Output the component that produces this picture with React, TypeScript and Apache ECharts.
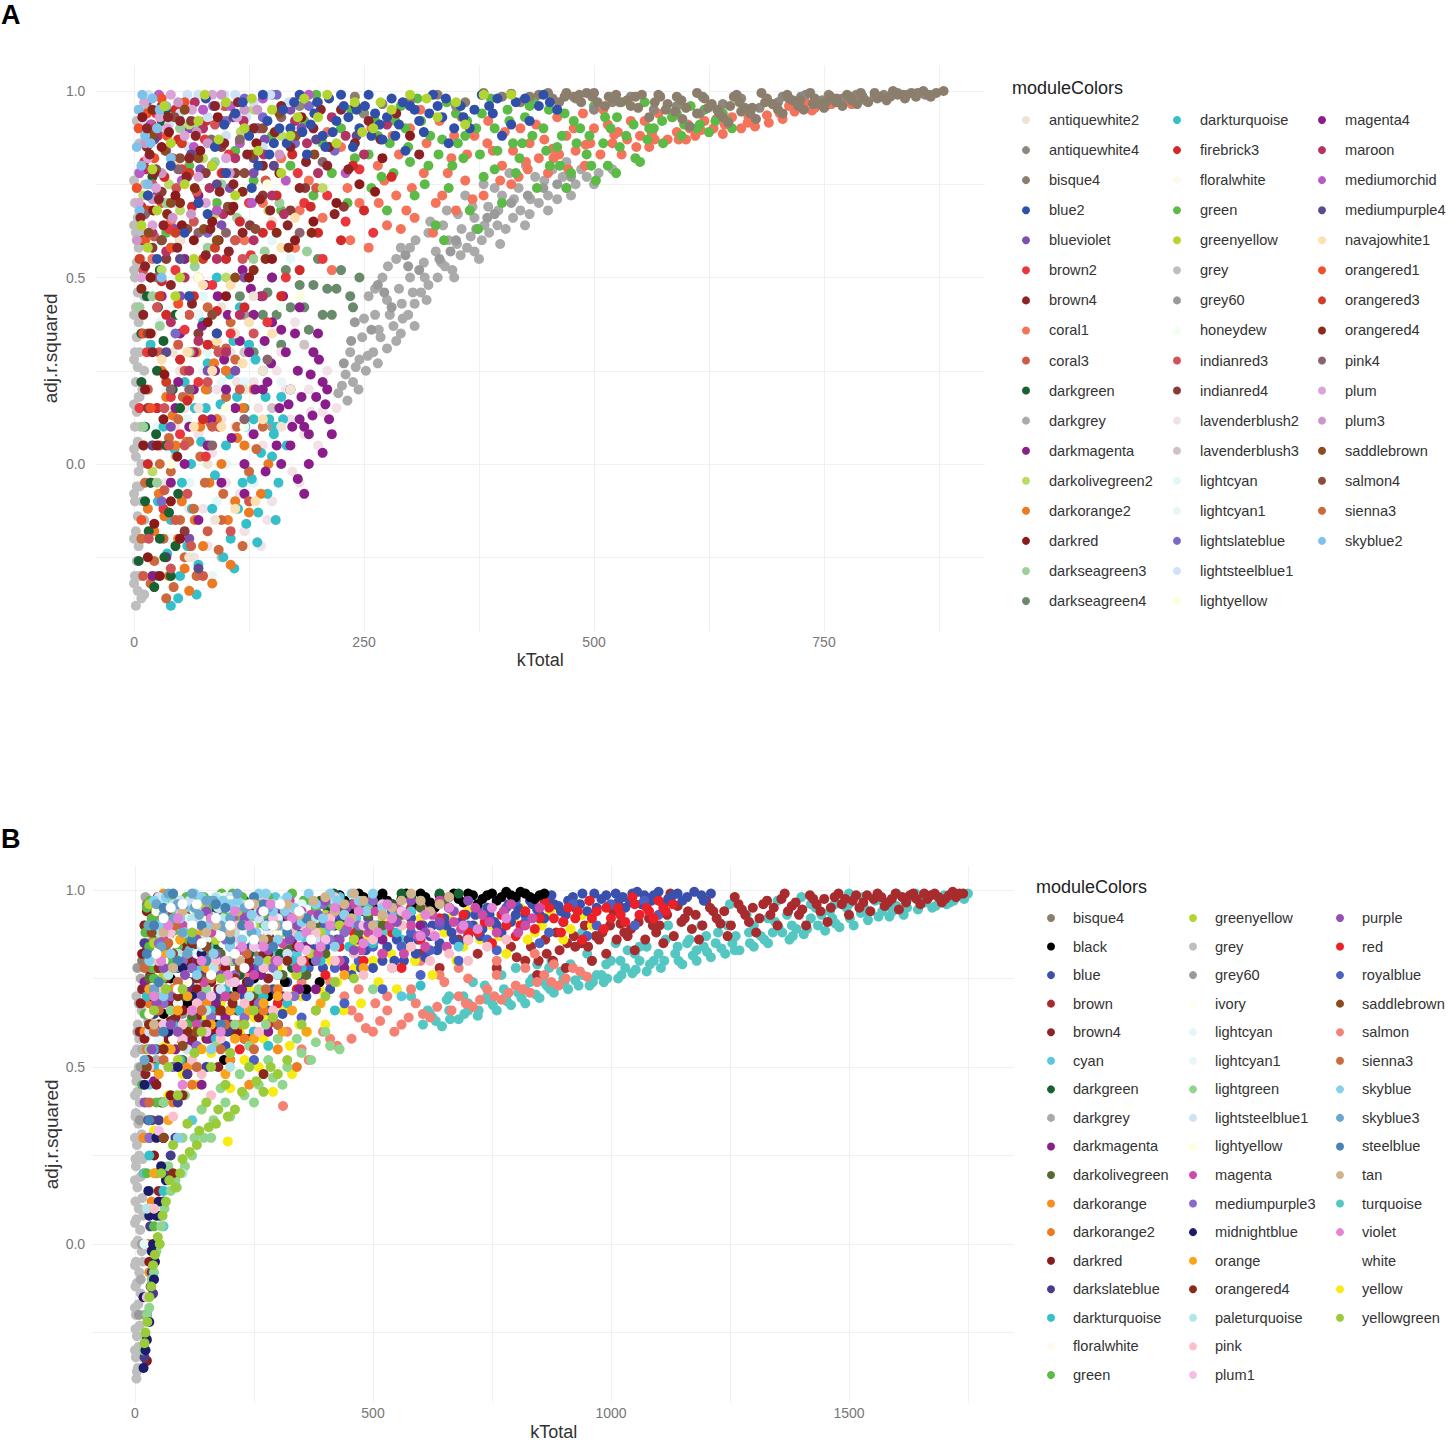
import React, { useEffect, useRef } from "react";
import * as echarts from "echarts";

// ================= Panel A : [kTotal, adj.r.squared] pairs (flat) =================
const A_grey = [2,-.38,4,-.34,1,-.3,3,-.26,5,-.22,2,-.18,4,-.14,1,-.1,3,-.06,5,-.02,2,.02,4,.06,1,.1,3,.14,5,.18,2,.22,4,.26,1,.3,3,.34,5,.38,2,.42,4,.46,1,.5,3,.54,5,.58,2,.62,4,.66,1,.7,3,.74,5,.78,8,-.36,9,-.2,8,0,9,.2,8,.4,7,.55,9,-.1,7,.1,6,.3,6,.86,3,.92,0,-.32,0,-.2,0,-.08,0,.04,0,.16,0,.28,0,.4,0,.52,0,.64,0,.76,6,-.3,6,-.06,6,.18,6,.42,6,.66,11,-.35,11,-.15,11,.05,11,.25,11,.45,10,.62,12,.75];
const A_darkgrey = [222,.19,230,.24,238,.22,245,.28,252,.25,260,.3,268,.34,275,.31,282,.37,290,.35,298,.4,305,.43,312,.46,320,.48,330,.5,338,.53,346,.52,355,.56,362,.58,370,.57,378,.6,386,.62,395,.64,404,.63,412,.66,420,.68,430,.67,440,.7,450,.72,460,.71,470,.74,480,.75,492,.77,505,.78,235,.3,248,.34,262,.4,275,.44,288,.47,300,.5,315,.54,328,.57,342,.6,356,.63,370,.66,385,.69,400,.72,418,.74,436,.77,455,.79,255,.45,270,.5,285,.55,300,.58,320,.62,340,.68,360,.72,380,.75,232,.17,265,.27,292,.39,318,.44,348,.5,375,.55,398,.59,425,.64,450,.68,475,.72,500,.75,520,.79,244,.2,285,.33,305,.37,226,.21,241,.26,254,.29,266,.36,278,.4,291,.43,303,.46,316,.5,334,.54,351,.59,366,.61,381,.64,396,.68,413,.71,431,.71,446,.76,466,.77,486,.79,250,.39,262,.47,276,.53,290,.58,306,.6,322,.65,336,.64,352,.67,368,.69,392,.74,408,.78,426,.8,470,.81];
const A_grey60 = [228,.27,258,.36,280,.42,310,.52,332,.55,350,.6,372,.63,392,.67,410,.7,445,.74,475,.77,240,.38,265,.48,295,.56,120,.4,80,.2,150,.1,50,.6,30,.9,236,.33,272,.46,298,.53,344,.57,384,.66,428,.72,460,.75];
const A_coral1 = [780,.965,765,.975,752,.96,740,.955,730,.97,718,.945,705,.925,690,.915,675,.905,660,.9,650,.93,640,.885,630,.9,620,.92,610,.88,600,.87,590,.89,580,.87,570,.94,560,.85,550,.88,540,.92,530,.83,520,.86,510,.95,500,.9,490,.8,480,.84,470,.88,460,.93,450,.78,440,.82,430,.86,420,.9,410,.75,400,.8,390,.84,380,.72,370,.88,360,.76,350,.68,345,.82,335,.72,325,.62,315,.78,305,.66,300,.9,290,.63,285,.72,275,.64,265,.8,255,.58,245,.7,235,.6,225,.85,215,.52,205,.66,190,.76,175,.58,160,.82,140,.7,120,.6,95,.78,70,.5,40,.65,20,.55,258,.9,272,.76,288,.83,302,.74,318,.86,332,.92,348,.88,362,.83,385,.92,398,.76,412,.84,428,.79,446,.87,462,.83,478,.9,496,.86,515,.91,536,.87,555,.92,585,.93,604,.9,625,.89,668,.93,712,.96,745,.97,232,.74,210,.89,180,.68,266,.7,281,.88,296,.68,311,.95,328,.7,341,.78,356,.93,368,.71,384,.86,403,.89,418,.77,437,.91,456,.82,472,.79,488,.94,507,.83,526,.89,546,.85,566,.87,592,.87,616,.895,642,.91,688,.935,726,.955,758,.965,563,.885,602,.91,633,.925,667,.915,702,.94,737,.948,772,.972,522,.883,491,.856,455,.845,426,.81];
const A_green = [650,.9,640,.94,625,.89,615,.91,605,.96,595,.88,585,.93,575,.86,565,.9,555,.97,545,.82,535,.88,525,.93,515,.8,510,.86,500,.96,492,.83,485,.9,475,.78,468,.94,460,.85,452,.8,445,.9,438,.74,430,.96,422,.86,415,.78,408,.92,400,.7,395,.84,388,.98,380,.77,372,.9,365,.68,358,.82,350,.94,342,.74,335,.87,328,.64,320,.8,312,.92,305,.72,298,.85,290,.96,282,.78,275,.68,265,.88,258,.74,250,.94,240,.82,232,.7,225,.9,215,.78,205,.86,195,.72,185,.92,170,.8,160,.68,150,.88,130,.76,110,.84,90,.7,60,.8,35,.62,550,.81,524,.78,502,.76,470,.74,374,.63,337,.6,262,.92,278,.86,295,.9,308,.98,322,.88,340,.97,352,.86,362,.92,378,.94,392,.9,412,.86,425,.93,435,.98,448,.84,465,.88,478,.92,495,.88,518,.9,530,.97,560,.9,590,.94,612,.9,632,.92,236,.95,198,.99,255,.83,269,.77,284,.92,300,.81,316,.75,331,.83,346,.8,360,.88,376,.83,392,.79,406,.95,419,.82,433,.88,451,.95,463,.8,481,.86,497,.8,512,.93,528,.85,543,.91,558,.87,574,.92,598,.91,620,.95,645,.92];
const A_antiquewhite4 = [860,.99,840,.99,815,.99,795,.975,770,.98,748,.975,725,.985,700,.97,680,.955,660,.98,640,.965,615,.94,590,.96,565,.95,540,.985,520,.97,500,.95,480,.98,350,.96,250,.94,180,.96,120,.9,60,.85,705,.985,730,.99,755,.99,785,.99,805,.985,830,.995];
const A_bisque4 = [880,1,872,.995,865,.99,858,1,850,.985,845,.995,838,.98,830,.99,825,1,818,.975,812,.985,805,.995,798,.97,792,.985,786,.965,780,.975,775,.99,770,.96,763,.97,757,.985,750,.955,745,.965,740,.98,735,.995,728,.95,722,.96,716,.975,710,.99,705,.94,700,.95,694,.965,688,.98,682,.995,676,.925,670,.94,664,.955,658,.97,652,.985,646,.915,640,.93,634,.95,628,.965,620,.98,612,.995,604,.905,596,.925,588,.945,580,.965,572,.985,560,.93,548,.955,536,.975,524,.99,512,.96,498,.985,486,.97,470,.995,455,.98,440,.99,420,.97,400,.985,380,.995,360,.97,330,.99,300,.975,270,.965,240,.985,200,.97,150,.99,100,.96,866,.985,852,.995,836,.99,822,.985,808,.98,790,.995,778,.985,764,.98,752,.97,738,.965,724,.975,712,.98,698,.96,686,.97,672,.955,660,.945,648,.96,636,.94,624,.955,612,.94,600,.955,590,.985,578,.95,566,.97,552,.99,540,.96,528,.97,516,.985,504,.97,492,.995,478,.985,462,.97,410,.993,430,.985,450,.995,468,.985,484,.99,500,.995,520,.98,545,.985,570,.99,595,.975,618,.985,655,.99];
const A_blue2 = [460,.95,445,.99,430,.92,415,.97,400,.88,390,.94,378,.99,365,.9,355,.96,342,.86,335,.93,325,.99,315,.89,305,.95,295,.84,288,.91,280,.98,270,.87,262,.94,255,.99,245,.9,238,.85,228,.96,220,.92,212,.98,205,.88,196,.94,188,.83,180,.99,170,.9,162,.95,152,.86,145,.92,135,.8,125,.88,110,.94,100,.78,88,.85,70,.7,55,.62,40,.8,25,.55,15,.72,60,.45,90,.35,140,.99,158,.9,174,.97,192,.91,208,.85,225,.99,242,.95,258,.88,275,.93,292,.97,310,.92,330,.96,348,.9,370,.95,395,.98,410,.91,440,.96,118,.97,98,.91,78,.98,128,.74,80,.67,147,.83,166,.86,183,.89,199,.97,216,.89,233,.93,251,.96,267,.91,284,.88,300,.96,321,.94,339,.98,358,.93,386,.96,425,.98,452,.97];
const A_greenyellow = [380,.99,350,.97,330,.93,300,.99,280,.95,260,.9,240,.97,220,.86,200,.93,185,.98,170,.88,150,.95,135,.84,120,.9,100,.97,85,.8,70,.92,55,.75,40,.86,25,.68,15,.58,65,.55,45,.45,110,.72,160,.78,33,.96,77,.99,92,.87,128,.98,178,.93,210,.99,248,.89,268,.97,318,.98,360,.91,410,.99,20,.79,8,.64,50,.5];
const A_brown4 = [255,.92,240,.86,225,.95,210,.8,195,.9,180,.74,170,.85,160,.96,148,.68,140,.8,130,.9,118,.62,108,.75,98,.86,88,.96,78,.56,70,.7,60,.82,50,.92,40,.48,32,.64,22,.78,14,.9,10,.4,20,.3,7,.66,17,.83,27,.71,37,.93,47,.58,57,.77,67,.88,83,.63,93,.73,113,.97,123,.83,137,.71,153,.89,167,.64,187,.81,203,.95,218,.67,233,.79,268,.87,285,.94,310,.83,12,.53,63,.43,103,.57];
const A_darkred = [300,.88,270,.82,245,.75,220,.7,195,.65,175,.6,150,.55,125,.5,100,.45,85,.65,65,.6,45,.72,30,.85,18,.5,12,.2,25,.05,40,-.1,15,-.25,9,.93,21,.68,38,.89,52,.64,72,.84,91,.93,108,.69,133,.86,158,.78,182,.93,212,.85,241,.96,262,.73,33,.24,47,.02,22,-.16,80,.38,10,.05,18,.35,32,.12,50,-.2,28,-.3];
const A_maroon = [230,.88,200,.78,175,.92,150,.72,130,.6,110,.82,90,.55,75,.9,55,.5,40,.38,30,.96,20,.62,60,.25,100,.3,140,.45,13,.79,26,.88,44,.81,66,.97,82,.74,97,.67,119,.92,141,.83,163,.67,188,.86,215,.93,250,.83,275,.91,35,.57,70,.33,115,.4];
const A_firebrick3 = [280,.77,250,.68,225,.6,200,.62,180,.52,160,.45,140,.62,120,.42,100,.55,80,.32,65,.45,50,.28,35,.4,25,.15,15,0,10,.8,45,.95,75,.12,8,.69,19,.91,33,.77,48,.87,63,.69,78,.92,96,.78,115,.65,135,.9,155,.72,172,.83,192,.69,238,.8,30,.49,58,.17,90,.41];
const A_brown2 = [260,.62,230,.65,205,.55,185,.7,165,.5,145,.38,125,.7,105,.35,85,.48,70,.22,55,.36,40,.18,28,.05,18,-.05,95,.92,11,.81,24,.94,38,.63,52,.79,77,.87,103,.83,127,.56,149,.64,178,.78,210,.72,245,.79,14,.3,45,.52,92,.1,6,.15,32,-.12,50,.08,78,.02,62,.3];
const A_magenta4 = [215,.08,212,.12,205,.03,198,.18,190,0,185,.1,178,.25,170,.05,165,.3,158,.15,150,.38,145,.22,138,.45,130,.08,125,.3,118,.52,110,.15,102,.4,95,-.05,88,.25,78,.48,70,-.15,60,.1,50,.35,35,-.25,180,.42,200,.35,185,-.08,178,-.04,55,0,65,.2,84,.12,98,.28,115,.33,132,.2,142,.33,155,.05,168,.16,175,.35,192,.24,208,.16,162,.45,120,-.08,143,-.02,48,.22,74,.37,91,.45,106,.07,127,.47,149,.27,160,.36,172,.1,182,.18,194,.13,201,.28,210,.2];
const A_darkmagenta = [205,.22,195,.3,180,.12,160,0,140,.2,120,0,100,.2,80,.05,65,.3,45,.15,30,.45,20,-.3,150,.5,110,.6,70,.72,90,.35,130,.4,170,.2,40,-.05,55,.55,190,.08];
const A_darkturquoise = [160,.18,155,.1,150,.02,145,-.08,140,.25,135,-.13,130,.12,125,.32,118,-.05,112,.18,105,-.2,100,.05,92,.3,85,-.12,78,.15,70,-.27,62,0,55,.22,48,-.36,40,-.15,32,.1,25,-.3,18,.32,115,.42,90,.5,60,.45,154,-.15,134,-.21,109,-.28,68,-.35,40,-.38,26,-.1,44,.04,58,-.22,66,.15,82,.05,97,-.25,104,.24,121,.1,138,.03,147,.12,157,-.05,166,.05,75,.38,50,-.3,122,-.16,36,-.24,52,-.05,63,-.12,73,.06,88,-.03,94,.16,113,-.12,128,-.04,143,.18,152,.08,162,.12,80,.27,108,.33,132,.28];
const A_darkorange2 = [130,.2,120,.05,110,-.1,100,.25,90,.12,82,-.05,75,-.22,68,.3,60,.18,52,-.1,45,.05,38,-.3,30,.25,22,-.18,60,-.34,27,-.08,35,.18,48,-.2,57,.06,66,-.15,78,.2,95,0,105,-.27,118,.15,138,-.08,85,-.32,15,-.12,20,.05,33,-.14,42,.13,55,-.28,72,.1,87,.27,102,-.15,112,.07,125,-.13,146,0];
const A_sienna3 = [125,-.02,112,.1,95,-.15,88,.32,72,.02,65,-.12,55,-.25,48,.12,40,-.02,32,-.2,25,.15,18,-.32,105,.38,80,.42,35,-.36,12,-.05,28,0,43,-.33,60,.06,77,-.05,92,-.23,100,.18,118,-.22,133,.04,50,-.15,8,-.2,22,-.26,38,.07,53,.18,68,-.3,83,.11,97,-.08,110,.28,140,.1];
const A_saddlebrown = [40,.7,70,.82,20,.88,90,.6,55,.95,110,.5,16,.62,34,.84,76,.63,128,.83,158,.94,196,.83];
const A_salmon4 = [30,.6,50,.82,85,.4,120,.78,15,.35,140,.9,24,.79,58,.63,102,.69,132,.63,176,.88,44,.93];
const A_lavenderblush2 = [220,.15,210,.25,200,.05,190,.2,180,-.05,170,.12,160,.3,150,-.1,140,.05,130,.22,120,-.18,110,.1,100,-.05,90,.2,80,-.22,70,.08,60,-.12,50,.25,40,-.2,175,.38,45,.1,65,-.25,85,.03,105,.3,115,-.08,135,.15,145,-.15,165,.2,185,.08,195,.3,205,.14,125,-.03,35,-.05,55,.15,75,-.12,95,.12,112,.22,128,.08,138,-.22,155,.25,172,-.02,192,.14];
const A_lavenderblush3 = [185,.32,150,.15,120,.3,95,-.25,70,.4,45,.02,30,.6,20,.9];
const A_darkseagreen4 = [245,.5,235,.45,225,.52,215,.4,210,.47,200,.55,190,.36,180,.48,170,.42,160,.32,150,.5,140,.4,130,.3,115,.45,100,.25,90,.12,120,.15,108,.35,125,.5,145,.46,165,.52,185,.42,205,.4,220,.47,238,.42,195,.48,155,.4];
const A_darkseagreen3 = [20,.45,35,.7,50,.9,60,.3,80,.58,95,.75,130,.55,10,.1,25,-.05,15,.95,42,.58,70,.9,112,.66,158,.7,5,.42,28,.37,66,.53,88,.81,142,.57,188,.57];
const A_darkgreen = [40,.8,30,.6,15,.72,45,.4,25,.25,35,.05,12,-.1,28,-.2,40,-.3,18,.5,8,.35,50,.15,22,-.33,35,.95,10,.6,5,-.26,18,-.05,26,.42,33,-.25,42,.2,12,.1,48,-.08,20,.77,30,.92,8,.22,16,-.18,24,.08,32,.33,38,-.13,45,-.22,14,.45,28,.52];
const A_skyblue2 = [5,.95,12,.88,20,.98,8,.8,25,.9,35,.96,15,.75,3,.85,40,.82,30,.5,9,.99,18,.86,28,.95,6,.68];
const A_lightsteelblue1 = [10,.92,30,.98,50,.94,70,.99,90,.96,110,.99,130,.97,60,.85,140,.85,100,.88,45,.7,20,.62,16,.99,38,.91,58,.99,80,.93,98,.99,122,.93,148,.99,168,.97];
const A_lightcyan = [80,.3,110,.5,60,-.05,150,.6,35,.2,90,-.1,130,-.05,170,.55,20,-.3,50,-.1,100,.4,120,.22,75,.45,28,.38];
const A_lightcyan1 = [70,.4,100,0,140,.32,45,.5,120,.65,160,.22,25,.1,85,-.3,38,-.2,75,.25,108,-.1,180,.25,58,.12,95,.22];
const A_plum = [5,.7,15,.82,28,.93,40,.99,55,.88,70,.77,20,.64,8,.5,85,.99,100,.82,11,.97,24,.74,36,.9,63,.95,112,.93,78,.7];
const A_plum3 = [12,.86,30,.78,48,.97,62,.67,80,.86,95,.99,3,.6,120,.95,20,.71,42,.66,68,.89,104,.78,134,.95,158,.83];
const A_mediumorchid = [18,.91,35,.84,52,.76,75,.95,90,.68,115,.86,140,.98,165,.76,190,.99,230,.78,6,.78,27,.99,45,.71,65,.85,105,.96,128,.7];
const A_blueviolet = [25,.72,60,.9,95,.64,130,.78,170,.95,110,.25,40,.1,60,-.2,80,.25,50,.45,120,.5,14,.97,44,.63,72,.79,104,.74,142,.87,182,.9];
const A_lightslateblue = [140,.93,120,.98,100,.92,155,.99,175,.86,80,.62,45,.35,30,-.1,58,.77,86,.96,132,.9,190,.96,218,.84];
const A_mediumpurple4 = [50,.55,90,.75,130,.82,35,.3,20,.05,70,-.28,22,.87,62,.83,108,.93,152,.8,198,.87,242,.88];
const A_coral3 = [30,.7,60,.4,85,.1,110,.6,15,.2,45,-.15,75,-.3,125,-.1,22,.61,42,.82,68,.73,98,.96,143,.76,172,.97,198,.74,55,.25,100,.31,33,-.07,62,-.22,10,-.3,27,.3,48,.32,80,-.18,115,.2];
const A_indianred3 = [25,.42,55,.05,80,.22,105,-.18,40,-.28,130,.35,20,.75,65,.65,10,.52,46,.74,88,.91,118,.55,33,.15,16,-.2,38,.05,58,-.08,92,.3];
const A_indianred4 = [35,.55,70,.35,95,.85,140,.72,15,.15,55,-.18,20,.58,62,.92,110,.78,170,.68,30,.73,78,.78,126,.64,186,.74,228,.69];
const A_orangered1 = [5,.9,12,.6,22,.82,10,.35,30,.98,18,.15,40,.58,8,-.15,3,.74,14,.94,25,.71,36,.88,55,.97,48,.43];
const A_orangered3 = [15,.68,28,.45,45,.62,60,.78,35,.22,75,.55,6,.55,22,.9,52,.86,88,.58];
const A_orangered4 = [20,.95,50,.7,85,.8,105,.68,130,.52,155,.62,8,.47,36,.67,66,.74,92,.6,118,.73,143,.55,168,.58,193,.62,14,.85];
const A_pink4 = [25,.5,60,.2,100,.62,145,.28,180,.62,85,.05,40,.2,70,.62,120,.12,12,.67,48,.79,84,.87,115,.87,160,.93,205,.81];
const A_antiquewhite2 = [50,.6,70,.15,95,.42,120,.2,150,.65,35,.9,170,.2,80,0,20,.35,60,-.25,130,.45,160,.1,42,.3,88,-.15,110,.35,140,.25];
const A_navajowhite1 = [75,.48,95,.1,125,.38,160,.58,45,.8,110,-.12,140,.12,175,.66,58,.3,85,.25,105,.48,150,.35,30,.28,65,.1,90,.33,118,.27,132,-.1];
const A_floralwhite = [80,.7,110,.4,60,.2,140,.55,100,.9];
const A_honeydew = [90,.62,120,.1,50,.4,160,.42,130,.88];
const A_lightyellow = [70,.5,100,.15,145,.75,40,0,180,.45];
const A_darkolivegreen2 = [10,.72,30,.52,50,.68,75,.82,100,.5,130,.95,160,.88,20,-.02,38,.75,60,.91,88,.67,116,.89,146,.68,186,.98,205,.74];

// legend order (alphabetical, as in the reference)
const A_LEGEND = ["antiquewhite2","antiquewhite4","bisque4","blue2","blueviolet","brown2","brown4","coral1","coral3","darkgreen","darkgrey","darkmagenta","darkolivegreen2","darkorange2","darkred","darkseagreen3","darkseagreen4","darkturquoise","firebrick3","floralwhite","green","greenyellow","grey","grey60","honeydew","indianred3","indianred4","lavenderblush2","lavenderblush3","lightcyan","lightcyan1","lightslateblue","lightsteelblue1","lightyellow","magenta4","maroon","mediumorchid","mediumpurple4","navajowhite1","orangered1","orangered3","orangered4","pink4","plum","plum3","saddlebrown","salmon4","sienna3","skyblue2"];

const A_DATA: Record<string, number[]> = {
  antiquewhite2: A_antiquewhite2, antiquewhite4: A_antiquewhite4, bisque4: A_bisque4, blue2: A_blue2,
  blueviolet: A_blueviolet, brown2: A_brown2, brown4: A_brown4, coral1: A_coral1, coral3: A_coral3,
  darkgreen: A_darkgreen, darkgrey: A_darkgrey, darkmagenta: A_darkmagenta, darkolivegreen2: A_darkolivegreen2,
  darkorange2: A_darkorange2, darkred: A_darkred, darkseagreen3: A_darkseagreen3, darkseagreen4: A_darkseagreen4,
  darkturquoise: A_darkturquoise, firebrick3: A_firebrick3, floralwhite: A_floralwhite, green: A_green,
  greenyellow: A_greenyellow, grey: A_grey, grey60: A_grey60, honeydew: A_honeydew, indianred3: A_indianred3,
  indianred4: A_indianred4, lavenderblush2: A_lavenderblush2, lavenderblush3: A_lavenderblush3,
  lightcyan: A_lightcyan, lightcyan1: A_lightcyan1, lightslateblue: A_lightslateblue,
  lightsteelblue1: A_lightsteelblue1, lightyellow: A_lightyellow, magenta4: A_magenta4, maroon: A_maroon,
  mediumorchid: A_mediumorchid, mediumpurple4: A_mediumpurple4, navajowhite1: A_navajowhite1,
  orangered1: A_orangered1, orangered3: A_orangered3, orangered4: A_orangered4, pink4: A_pink4, plum: A_plum,
  plum3: A_plum3, saddlebrown: A_saddlebrown, salmon4: A_salmon4, sienna3: A_sienna3, skyblue2: A_skyblue2,
};
const A_FIRST = ["grey","darkgrey","grey60","coral1","green","antiquewhite4","bisque4","darkseagreen4","lavenderblush2","lavenderblush3","lightcyan","lightcyan1","darkturquoise","darkorange2","sienna3","magenta4","darkmagenta"];
const A_LAST = ["brown4","darkred","blue2","greenyellow"];

// ================= Panel B =================
const B_grey = [3,-.38,6,-.35,2,-.32,8,-.29,4,-.26,10,-.23,2,-.2,7,-.17,12,-.14,4,-.11,9,-.08,2,-.05,14,-.02,6,.01,11,.04,3,.07,8,.1,15,.13,5,.16,12,.19,2,.22,9,.25,4,.28,14,.31,7,.34,2,.37,10,.4,5,.43,3,.46,8,.5,4,.55,6,.62,3,.7,0,-.3,0,-.18,0,-.06,0,.06,0,.18,0,.3,0,.42,0,.54,4,-.36,10,-.3,16,-.05,18,.08,16,.24,12,.36,20,.45,9,.58,14,.66,17,-.32,19,-.2,1,-.24,1,-.12,1,0,1,.12,1,.24,1,.36,1,.48,20,.3,22,.5,13,.48];
const B_grey60 = [10,.35,25,.6,40,.8,70,.9,15,0,8,-.2,30,.15,55,.72,100,.65,20,.9,5,.78,12,.5,18,.2,28,.85];
const B_darkgrey = [5,.6,12,.75,20,.85,30,.7,45,.52,60,.88,18,.3,12,-.1,150,.95,200,.7,80,.98,35,.95,8,.68,15,.55,25,.4,40,.62,50,.92,22,.98,28,.63];
const B_turquoise = [1750,.99,1735,.985,1720,.97,1705,.96,1690,.975,1675,.95,1660,.965,1645,.945,1630,.98,1615,.93,1600,.955,1585,.925,1570,.94,1555,.97,1540,.915,1525,.935,1510,.9,1495,.95,1480,.895,1465,.92,1450,.885,1435,.9,1420,.96,1405,.875,1390,.89,1375,.86,1360,.88,1345,.91,1330,.85,1315,.87,1300,.84,1285,.93,1270,.83,1255,.85,1240,.82,1225,.88,1210,.81,1195,.84,1180,.8,1165,.86,1150,.79,1135,.82,1120,.9,1105,.78,1090,.8,1075,.77,1060,.84,1045,.765,1030,.78,1015,.75,1000,.8,985,.74,970,.76,955,.73,940,.88,925,.745,910,.72,895,.77,880,.71,865,.73,850,.695,835,.75,820,.68,805,.71,790,.675,775,.72,760,.66,740,.69,720,.645,700,.66,680,.635,660,.7,645,.615,620,.65,590,.8,560,.86,520,.9,470,.95,1400,.98,1500,.99,1600,.99,1350,.97,1250,.96,1742,.975,1712,.965,1682,.955,1652,.97,1622,.95,1592,.94,1562,.925,1532,.95,1502,.92,1472,.905,1442,.93,1412,.89,1382,.87,1352,.895,1322,.86,1292,.85,1262,.87,1232,.835,1202,.825,1172,.815,1142,.8,1112,.8,1082,.79,1052,.775,1022,.76,992,.75,962,.74,932,.73,902,.735,872,.72,842,.705,812,.695,782,.685,752,.675,722,.66,692,.65,662,.635,632,.63,605,.62,870,.78,960,.8,1050,.82,1700,.985,1660,.985,1620,.97,1580,.955,1540,.935,1500,.96,1460,.94,1420,.92,1380,.9,1340,.88,1300,.9,1260,.83,1220,.85,1180,.83,1140,.84,1100,.82,1060,.8,1020,.8,980,.76,940,.76,900,.75,860,.74,820,.72,780,.7,740,.7,700,.68,660,.66,625,.64,580,.7,540,.78,615,.66,655,.69,690,.7,735,.73,770,.76,800,.78,830,.74,875,.8,915,.79,950,.82,990,.79,1035,.83,1075,.84,1115,.86,1160,.85,1200,.87,1245,.9,1290,.88,1330,.92,1370,.93,1430,.95,1470,.96,1530,.98,1570,.97,1640,.99,710,.74,845,.79,1010,.85,1190,.9];
const B_brown = [1740,.99,1725,.98,1710,.985,1695,.965,1680,.99,1665,.975,1650,.96,1635,.99,1620,.965,1605,.945,1590,.975,1575,.955,1560,.99,1545,.94,1530,.965,1515,.985,1500,.93,1485,.96,1470,.98,1455,.91,1440,.94,1425,.975,1410,.9,1395,.93,1380,.955,1365,.99,1350,.9,1335,.93,1320,.96,1305,.88,1290,.91,1275,.945,1260,.98,1245,.87,1230,.905,1215,.94,1200,.97,1185,.86,1170,.89,1155,.92,1140,.955,1125,.99,1110,.85,1095,.88,1080,.92,1065,.96,1050,.83,1035,.87,1020,.905,1005,.94,990,.82,975,.86,960,.8,945,.9,925,.84,905,.78,885,.88,865,.82,845,.76,820,.8,790,.84,760,.78,720,.82,680,.86,640,.78,600,.82,1732,.99,1702,.975,1672,.985,1642,.975,1612,.98,1582,.965,1552,.975,1522,.95,1492,.975,1462,.95,1432,.96,1402,.945,1372,.94,1342,.95,1312,.92,1282,.93,1252,.9,1222,.92,1192,.9,1162,.94,1132,.87,1102,.9,1072,.86,1042,.89,1012,.86,982,.88,952,.84,922,.87,892,.83,862,.86,832,.84,802,.81,1718,.995,1688,.98,1658,.99,1628,.985,1598,.99,1568,.98,1538,.985,1508,.97,1478,.99,1448,.975,1418,.985,1388,.965,1358,.975,1328,.97,1298,.95,1268,.96,1238,.94,1208,.95,1178,.93,1148,.91,1118,.93,1088,.9,1058,.91,1028,.88,998,.9,968,.87,938,.85,908,.85,878,.8,848,.8];
const B_salmon = [950,.755,920,.78,890,.73,860,.76,830,.71,800,.73,770,.69,740,.72,710,.67,680,.7,650,.74,620,.64,590,.68,560,.62,530,.66,500,.6,470,.64,440,.7,410,.58,380,.66,350,.55,320,.6,840,.82,760,.8,680,.78,600,.8,311,.39,935,.77,905,.75,875,.74,845,.74,815,.72,785,.71,755,.7,725,.69,695,.68,665,.66,635,.67,605,.65,575,.64,545,.6,515,.63,485,.61,455,.58,425,.56,395,.6,365,.52,60,.6,120,.82,180,.62,240,.76,300,.88,350,.74,410,.74,470,.72,530,.7,580,.72,640,.76,700,.75,760,.76,820,.78,880,.79,455,.66,505,.68];
const B_yellow = [960,.9,930,.96,900,.86,870,.93,840,.88,810,.95,780,.82,750,.9,725,.86,700,.94,675,.8,650,.88,625,.76,600,.92,575,.84,550,.72,525,.88,500,.8,475,.68,450,.92,425,.74,400,.62,375,.84,350,.7,325,.56,300,.78,280,.64,260,.5,240,.72,220,.6,200,.44,180,.68,160,.54,140,.38,120,.6,100,.48,80,.7,60,.56,40,.32,30,.8,195,.29,290,.43,330,.48,940,.93,915,.89,885,.95,855,.9,825,.86,795,.92,765,.87,740,.94,712,.9,690,.84,660,.92,640,.84,612,.88,588,.8,562,.9,538,.82,512,.74,488,.86,462,.78,438,.66,412,.8,388,.72,362,.6,338,.76,312,.66,270,.58,230,.52,210,.66,170,.6,130,.45,110,.55,90,.62,70,.42,50,.66,115,.68,150,.64,185,.56,250,.64,315,.84,345,.62,395,.9,420,.86,470,.84,520,.92];
const B_blue = [1210,.99,1190,.985,1175,.995,1160,.98,1140,.99,1120,.975,1100,.995,1085,.97,1070,.985,1055,.995,1040,.965,1025,.98,1010,.99,995,.955,980,.975,965,.99,950,.94,935,.96,920,.98,905,.93,890,.955,875,.985,860,.92,845,.945,830,.97,815,.9,800,.93,785,.96,770,.88,755,.91,740,.95,725,.87,710,.9,695,.93,680,.85,665,.88,650,.92,635,.83,620,.87,605,.9,590,.82,575,.86,560,.94,545,.8,530,.84,515,.88,500,.78,485,.83,470,.9,455,.76,440,.8,425,.86,410,.72,395,.78,380,.84,360,.7,345,.76,330,.82,310,.65,290,.72,270,.78,250,.6,230,.7,210,.8,190,.56,170,.66,150,.75,130,.5,110,.62,1195,.97,1150,.97,1130,.985,1110,.96,1090,.985,1065,.96,1045,.99,1030,.95,1015,.965,990,.985,970,.95,955,.97,940,.99,925,.95,910,.97,895,.94,880,.96,865,.975,850,.93,835,.96,820,.93,805,.95,790,.91,775,.94,760,.9,745,.93,730,.89,715,.93,700,.87,685,.91,670,.86,655,.9,640,.85,625,.9,610,.81,595,.86,580,.92,565,.8,550,.86,535,.9,520,.8,505,.86,490,.92,460,.86,430,.92,400,.84,370,.88,340,.92,320,.74,280,.66,240,.84,200,.74,160,.6,120,.72,30,.7,60,.8,90,.7,140,.84,180,.92,220,.88,260,.94,300,.8,350,.84,385,.9,445,.94,475,.78];
const B_royalblue = [1100,.93,1050,.9,1000,.96,950,.87,900,.91,850,.85,800,.97,760,.83,720,.95,680,.8,640,.9,600,.76,560,.84,520,.72,480,.94,440,.68,400,.9,350,.64,300,.86,250,.52,1070,.97,1020,.93,970,.9,920,.96,870,.88,820,.91,780,.95,740,.86,700,.9,660,.95,620,.83,580,.88,540,.94,500,.84,460,.9,420,.78,380,.94,330,.86,280,.92,60,.9,110,.85,160,.95,210,.9,255,.78,315,.96,365,.78,430,.96,470,.8,510,.9];
const B_red = [1130,.96,1115,.94,1100,.97,1090,.92,1075,.95,1060,.93,1045,.98,1030,.91,1015,.95,1000,.92,985,.89,970,.94,955,.97,940,.86,925,.92,910,.95,895,.88,880,.92,860,.97,840,.89,820,.94,800,.87,780,.9,750,.85,720,.88,690,.93,660,.98,620,.96,560,.78,520,.82,460,.88,400,.76,340,.72,280,.62,220,.55,1110,.95,1080,.94,1050,.96,1020,.93,990,.95,960,.92,930,.94,900,.91,870,.95,850,.92,810,.9,770,.93,735,.91,700,.88,640,.92,600,.86,580,.95,500,.9,430,.84,45,.8,85,.72,130,.8,175,.66,235,.78,300,.68,360,.8,420,.94,480,.8,540,.88];
const B_black = [860,.99,840,.975,820,.99,800,.98,780,.995,760,.97,740,.985,720,.96,700,.99,680,.975,660,.95,640,.985,620,.965,600,.99,580,.94,560,.975,540,.96,520,.99,500,.95,480,.98,460,.93,440,.97,420,.9,390,.85,360,.72,330,.8,300,.62,280,.7,250,.75,230,.58,200,.66,180,.8,150,.74,120,.55,90,.85,60,.65,187,.52,388,.74,850,.985,830,.98,810,.995,790,.985,770,.98,750,.99,730,.975,710,.985,690,.965,670,.99,650,.97,630,.95,610,.98,590,.96,570,.99,550,.95,530,.97,510,.98,490,.96,470,.99,450,.95,430,.985,75,.75,110,.68,140,.9,170,.62,215,.72,265,.66,315,.74,345,.9,375,.8,410,.94];
const B_magenta = [850,.95,820,.9,790,.96,760,.88,730,.93,700,.86,670,.91,640,.97,610,.84,580,.9,550,.95,520,.82,490,.88,460,.96,430,.8,400,.86,370,.93,340,.78,310,.85,280,.9,250,.76,220,.83,190,.7,160,.88,130,.62,835,.92,805,.88,775,.94,745,.91,715,.95,685,.89,655,.84,625,.93,595,.87,565,.82,535,.9,505,.94,475,.83,445,.89,415,.93,385,.82,355,.9,325,.97,295,.8,265,.86,235,.94,60,.86,100,.9,145,.74,175,.97,205,.92,240,.7,275,.96,310,.9,350,.94,400,.92];
const B_violet = [780,.92,720,.89,660,.95,600,.87,540,.92,480,.85,420,.95,360,.88,300,.8,240,.9,180,.6,140,.8,100,.45,70,.9,40,.7,750,.95,690,.9,630,.87,570,.93,510,.88,450,.91,390,.84,330,.92,270,.84,210,.94,55,.8,90,.92,120,.66,160,.92,195,.76,225,.84,285,.96,345,.84,410,.9,470,.94,530,.96,610,.93];
const B_purple = [700,.97,640,.91,580,.97,520,.93,460,.83,400,.97,340,.9,280,.83,230,.92,180,.76,130,.86,90,.6,60,.78,35,.55,20,.4,670,.94,610,.88,550,.91,490,.9,430,.86,370,.9,310,.95,250,.88,200,.84,150,.94,45,.68,75,.62,105,.76,140,.66,170,.82,215,.8,265,.94,325,.86,385,.93,445,.95];
const B_mediumpurple3 = [500,.97,440,.88,380,.8,320,.93,260,.68,210,.76,160,.64,120,.78,80,.5,50,.85,30,.3,260,.85,45,.6,75,.7,100,.8,140,.7,190,.86,230,.64,290,.78,350,.8,410,.86,25,.82,60,.68,90,.92,130,.56,175,.8,220,.96,275,.9,335,.7,395,.96,470,.9];
const B_skyblue = [500,.99,470,.97,440,.93,410,.99,380,.96,350,.91,320,.98,290,.94,260,.99,230,.9,200,.96,170,.92,140,.98,110,.88,80,.95,50,.9,30,.8,420,.84,300,.86,200,.84,130,.76,60,.7,160,.55,90,.3,215,.97,245,.93,275,.99,305,.9,335,.95,365,.99,395,.92,455,.99,485,.94,185,.97,155,.9,95,.92,65,.98,40,.97,75,.82,105,.95,125,.99,165,.82,225,.86,255,.88,315,.94,345,.87,425,.97,520,.95];
const B_cyan = [490,.95,450,.9,430,.98,400,.88,370,.97,340,.82,310,.95,280,.88,250,.96,220,.78,190,.92,160,.84,130,.95,100,.74,75,.88,50,.62,30,.45,20,.2,600,.9,680,.84,560,.7,150,.5,120,.35,60,.05,235,.94,265,.9,295,.98,325,.91,355,.97,385,.93,415,.9,465,.92,520,.88,545,.93,205,.86,175,.95,145,.88,115,.83,40,.9,65,.8,90,.9,110,.96,140,.78,175,.8,210,.97,245,.86,300,.82,360,.86,410,.95,505,.9,580,.94];
const B_paleturquoise = [380,.92,320,.88,260,.94,210,.88,170,.98,120,.92,90,.82,60,.96,40,.6,25,.1,150,.66,240,.7,300,.76,200,.5,100,.2,50,.88,80,.96,105,.88,140,.84,185,.92,225,.96,275,.9,350,.93,420,.97,35,.8,70,.76,130,.94,165,.78,205,.95,250,.84,310,.97];
const B_skyblue3 = [150,.97,120,.99,90,.96,70,.99,60,.93,180,.9,230,.95,110,.82,40,.72,20,.52,300,.9,260,.8,45,.96,100,.88,135,.93,165,.97,200,.92,245,.88,280,.95,30,.9,55,.84,80,.92,125,.95,190,.88,215,.99];
const B_steelblue = [100,.95,80,.99,140,.9,200,.86,250,.98,40,.9,60,.6,30,.35,320,.88,180,.62,60,.95,120,.86,170,.96,225,.9,290,.84,360,.92,25,.82,50,.74,90,.8,150,.8,190,.95,270,.96];
const B_green = [25,.95,35,.92,45,.96,55,.9,65,.94,75,.88,85,.93,95,.97,105,.91,115,.95,125,.86,135,.93,145,.98,160,.9,175,.96,190,.94,205,.99,220,.92,240,.96,260,.9,280,.98,30,.84,50,.82,70,.8,90,.84,40,.75,60,.7,20,.65,30,.55,15,.45,45,.4,80,.5,110,.62,330,.99,380,.95,150,.78,25,.2,40,.05,22,.88,32,.97,42,.87,52,.98,62,.86,72,.97,82,.9,92,.88,102,.96,112,.86,122,.97,132,.88,152,.95,168,.86,182,.99,198,.9,212,.95,232,.88,252,.97,270,.93,300,.96,35,.78,58,.75,28,.9,48,.91,68,.89,88,.96,108,.98,128,.93,158,.97,178,.91,195,.97,225,.98,245,.92,290,.9,355,.97,415,.96];
const B_lightgreen = [430,.55,400,.6,370,.52,340,.58,310,.45,280,.52,250,.4,220,.48,200,.36,180,.44,160,.3,140,.38,120,.25,100,.3,85,.18,70,.22,55,.05,45,-.02,35,-.1,25,-.2,18,-.3,60,.4,90,.6,150,.72,200,.8,260,.72,330,.7,500,.72,410,.56,380,.57,350,.54,320,.5,290,.47,260,.45,230,.42,190,.4,165,.35,145,.3,125,.3,105,.22,88,.16,75,.15,62,.1,50,0,40,-.08,30,-.18,22,-.26,30,.55,50,.7,75,.66,105,.42,130,.5,170,.56,210,.62,240,.56,275,.62,300,.58];
const B_yellowgreen = [300,.48,270,.43,240,.5,210,.38,190,.45,170,.34,150,.4,130,.28,110,.34,95,.2,80,.28,65,.12,55,.2,48,.02,38,-.06,30,-.15,22,-.25,70,.5,100,.72,140,.6,180,.75,230,.62,350,.62,400,.7,460,.75,120,.88,320,.52,285,.5,255,.46,225,.43,195,.36,175,.38,155,.33,135,.32,115,.26,100,.24,85,.16,72,.18,58,.08,52,0,42,-.03,34,-.12,26,-.22,20,-.28,40,.66,65,.72,90,.42,125,.54,160,.5,200,.54,250,.66,290,.64,380,.66,420,.74];
const B_midnightblue = [30,-.22,22,-.3,40,-.1,35,-.02,45,.08,28,.15,55,.22,18,-.35,60,.3,20,.45,90,.5,120,.7,25,-.27,33,-.12,38,0,42,-.05,50,.12,30,.08,65,.18,18,-.15,45,.3,70,.6,100,.78,140,.82,180,.66,60,.92];
const B_darkslateblue = [25,-.2,38,-.14,45,0,32,.05,60,.12,75,.25,50,.35,90,.4,130,.55,170,.7,40,.65,20,.85,20,-.32,35,-.08,52,.08,68,.2,85,.3,110,.48,28,.35,60,.5,55,.78,85,.62,115,.74,150,.5,195,.6,240,.74];
const B_darkred = [20,.58,35,.7,50,.62,65,.75,80,.68,95,.6,110,.8,130,.72,150,.85,170,.6,190,.78,220,.88,250,.68,280,.82,320,.92,45,.45,60,.3,30,-.05,25,-.33,75,.42,15,.82,28,.52,42,.88,55,.7,70,.58,85,.87,100,.66,120,.78,140,.66,160,.74,180,.88,205,.8,235,.74,265,.9,300,.76,340,.84,40,.25,55,.4,12,.68,25,.94,48,.98,62,.9,90,.95,115,.94,135,.8,175,.72,210,.6,245,.94,290,.88,360,.9];
const B_brown4 = [15,.72,30,.62,45,.78,60,.55,75,.68,90,.78,110,.48,130,.64,150,.58,175,.5,200,.62,240,.58,280,.75,35,.35,50,.15,20,.9,100,.92,140,.95,25,.83,40,.66,55,.86,70,.77,85,.64,105,.84,120,.58,145,.76,165,.67,190,.7,215,.6,260,.64,300,.7,22,.48,38,.1,10,.6,32,.76,48,.68,65,.6,80,.9,95,.7,125,.84,155,.9,185,.6,225,.86,270,.82];
const B_darkgreen = [560,.99,600,.97,520,.96,480,.94,430,.9,380,.86,330,.78,280,.88,240,.82,200,.7,150,.76,100,.7,60,.82,40,.5,30,.3,418,.99,390,.97,680,.99,640,.99,580,.98,500,.97,455,.96,405,.94,350,.88,305,.82,260,.9,220,.76,175,.84,125,.9,80,.72,110,.8,170,.95,230,.97,310,.94,365,.92,445,.92,540,.96];
const B_darkolivegreen = [650,.97,560,.93,470,.88,400,.82,320,.84,250,.7,180,.82,100,.52,60,.4,30,.75,140,.75,210,.88,290,.9,360,.76,440,.94,520,.9,600,.95,70,.86,120,.64,170,.9,240,.9,310,.76,380,.9,490,.93];
const B_darkmagenta = [440,.78,380,.72,330,.86,280,.6,240,.78,200,.52,170,.68,140,.45,110,.72,85,.55,60,.68,40,.46,25,.6,520,.86,600,.9,35,.82,50,.72,70,.62,95,.66,125,.8,155,.58,190,.64,225,.72,265,.76,310,.7,360,.84,410,.9,20,.74,45,.55,80,.82,115,.56,145,.76,180,.92,215,.66,255,.88,295,.94,345,.72,395,.82,470,.86];
const B_darkorange = [60,.99,40,.78,25,.7,70,.6,110,.5,150,.68,200,.52,240,.45,300,.55,35,.12,30,-.08,90,.8,20,.6,35,.5,55,.62,80,.72,100,.6,130,.6,175,.58,220,.62,18,.3];
const B_darkorange2 = [30,.68,55,.5,80,.4,120,.45,160,.62,200,.9,45,.2,28,0,270,.66,340,.5,25,.55,40,.86,65,.8,95,.58,140,.72,185,.78,230,.58,300,.72];
const B_darkturquoise = [50,.5,80,.62,120,.7,170,.58,220,.66,280,.56,350,.78,420,.66,30,.25,60,.15,500,.85,600,.73,40,.55,65,.72,95,.52,140,.62,190,.72,250,.6,320,.68,390,.8,25,.7,55,.88,85,.78,110,.6,160,.66,210,.8,270,.7,330,.8,450,.84,550,.88];
const B_orange = [90,.66,140,.55,190,.48,240,.66,300,.7,360,.6,70,.35,40,.2,130,.88,480,.78,50,.48,75,.55,110,.7,160,.62,210,.58,270,.68,330,.66,30,.72,60,.82,95,.86,150,.78,200,.66,250,.58,310,.6,390,.68,440,.76];
const B_orangered4 = [60,.55,100,.42,150,.62,210,.75,270,.48,40,.88,120,.85,80,.2,30,.62,90,.7,130,.75,180,.66,240,.8,50,.78,75,.63,110,.6,160,.92,205,.68,260,.94,320,.8];
const B_bisque4 = [15,.8,30,.88,50,.72,80,.6,110,.9,160,.82,200,.94,40,.55,25,.96,65,.84,95,.72,140,.98,180,.7,240,.92,55,.92,85,.94,125,.78,170,.96,215,.86,260,.82];
const B_tan = [660,.98,620,.94,580,.99,540,.95,500,.9,460,.99,420,.94,370,.9,320,.96,270,.86,220,.8,170,.9,120,.66,80,.78,40,.62,640,.96,600,.97,560,.97,520,.93,480,.97,440,.96,400,.98,345,.93,295,.9,60,.88,100,.94,150,.88,200,.88,250,.96,375,.97,455,.92];
const B_pink = [780,.86,700,.8,620,.88,540,.78,460,.82,380,.88,320,.7,260,.6,200,.74,160,.42,120,.52,80,.36,60,.72,40,.1,25,-.15,740,.84,660,.82,580,.84,500,.86,420,.8,350,.8,290,.66,230,.68,180,.58,140,.48,100,.62,50,.8,90,.74,130,.68,170,.8,215,.9,270,.78,330,.88,410,.92,480,.76,560,.9,620,.8,700,.86];
const B_plum1 = [520,.96,440,.93,360,.83,290,.92,220,.86,160,.7,100,.58,50,.32,30,.5,75,.88,130,.9,190,.8,250,.84,330,.95,400,.86,480,.9,60,.62,95,.94,150,.6,210,.74,270,.98,350,.9,420,.98,560,.94];
const B_lightcyan = [200,.92,260,.84,150,.86,100,.78,300,.92,350,.96,60,.5,80,.92,40,.8,20,0,70,.86,120,.96,170,.88,220,.85,280,.88,55,.96,110,.92,150,.94,195,.95,245,.9];
const B_lightcyan1 = [240,.88,180,.9,130,.82,280,.96,90,.68,50,.58,30,.1,190,.98];
const B_lightsteelblue1 = [140,.92,90,.9,320,.82,260,.92,200,.98,380,.86,50,.98,30,.6,180,.72,110,.55,70,.94,115,.97,160,.88,230,.92,290,.96,40,.88,95,.97,135,.86,175,.95,250,.98,340,.9];
const B_lightyellow = [230,.86,170,.8,110,.74,70,.62,300,.88,400,.92,45,.94,90,.86,150,.92,200,.97,260,.95];
const B_ivory = [200,.84,150,.8,260,.88,110,.88,60,.8,30,.65,85,.85,125,.94,175,.98,225,.88];
const B_white = [180,.87,210,.82,250,.86,120,.9,90,.72,160,.76,290,.9,60,.92,100,.96,140,.85,200,.9,230,.78,270,.94,320,.9,370,.86,45,.82,75,.95,130,.96,170,.92,240,.96,305,.96,345,.94];
const B_floralwhite = [230,.9,140,.7,80,.58,320,.86,40,.9,60,.85,110,.96,185,.85,270,.98];
const B_greenyellow = [120,.92,170,.86,220,.94,280,.8,340,.76,400,.93,60,.76,40,.85,90,.52,460,.86,75,.9,100,.8,145,.96,195,.86,250,.9,310,.88,370,.82,430,.9,30,.96,55,.86,85,.96,130,.82,160,.76,210,.8,265,.86,325,.94,390,.88,490,.94];
const B_saddlebrown = [80,.82,40,.7,130,.6,190,.88,25,.5,60,.3,35,.88,70,.94,100,.56,150,.84,220,.78,280,.86];
const B_sienna3 = [50,.66,90,.74,130,.5,180,.55,30,.4,250,.55,20,.78,70,.85,40,.6,110,.82,160,.75,210,.7,300,.62,60,.52,85,.9,140,.66,190,.62,235,.82,275,.72];

const B_LEGEND = ["bisque4","black","blue","brown","brown4","cyan","darkgreen","darkgrey","darkmagenta","darkolivegreen","darkorange","darkorange2","darkred","darkslateblue","darkturquoise","floralwhite","green","greenyellow","grey","grey60","ivory","lightcyan","lightcyan1","lightgreen","lightsteelblue1","lightyellow","magenta","mediumpurple3","midnightblue","orange","orangered4","paleturquoise","pink","plum1","purple","red","royalblue","saddlebrown","salmon","sienna3","skyblue","skyblue3","steelblue","tan","turquoise","violet","white","yellow","yellowgreen"];

const B_DATA: Record<string, number[]> = {
  bisque4: B_bisque4, black: B_black, blue: B_blue, brown: B_brown, brown4: B_brown4, cyan: B_cyan,
  darkgreen: B_darkgreen, darkgrey: B_darkgrey, darkmagenta: B_darkmagenta, darkolivegreen: B_darkolivegreen,
  darkorange: B_darkorange, darkorange2: B_darkorange2, darkred: B_darkred, darkslateblue: B_darkslateblue,
  darkturquoise: B_darkturquoise, floralwhite: B_floralwhite, green: B_green, greenyellow: B_greenyellow,
  grey: B_grey, grey60: B_grey60, ivory: B_ivory, lightcyan: B_lightcyan, lightcyan1: B_lightcyan1,
  lightgreen: B_lightgreen, lightsteelblue1: B_lightsteelblue1, lightyellow: B_lightyellow, magenta: B_magenta,
  mediumpurple3: B_mediumpurple3, midnightblue: B_midnightblue, orange: B_orange, orangered4: B_orangered4,
  paleturquoise: B_paleturquoise, pink: B_pink, plum1: B_plum1, purple: B_purple, red: B_red,
  royalblue: B_royalblue, saddlebrown: B_saddlebrown, salmon: B_salmon, sienna3: B_sienna3, skyblue: B_skyblue,
  skyblue3: B_skyblue3, steelblue: B_steelblue, tan: B_tan, turquoise: B_turquoise, violet: B_violet,
  white: B_white, yellow: B_yellow, yellowgreen: B_yellowgreen,
};
const B_FIRST = ["grey","grey60","darkgrey","turquoise","brown","salmon","yellow","blue","royalblue","red","black"];
const B_LAST: string[] = [];

// ---- tick positions ----
const A_X_LABELS = [0, 250, 500, 750];
const A_X_GRID = [0, 125, 250, 375, 500, 625, 750, 875];
const B_X_LABELS = [0, 500, 1000, 1500];
const B_X_GRID = [0, 250, 500, 750, 1000, 1250, 1500, 1750];
const Y_LABELS = [0, 0.5, 1];
const Y_GRID = [-0.25, 0, 0.25, 0.5, 0.75, 1];

// ---- colours (as rendered in the figure) ----
const COLORS: Record<string, string> = {
  antiquewhite2: "#efe3d3", antiquewhite4: "#8e877e", bisque4: "#8c7e6c", blue2: "#2f4fa8", blueviolet: "#7f4fb0",
  brown2: "#e8383d", brown4: "#8b2327", coral1: "#f4735a", coral3: "#d05a48", darkgreen: "#1a6131",
  darkgrey: "#aaaaaa", darkmagenta: "#88208a", darkolivegreen2: "#bcdb66", darkorange2: "#ec7a23",
  darkred: "#8b1a1a", darkseagreen3: "#9dcf9a", darkseagreen4: "#6a8b6b", darkturquoise: "#35bfcb",
  firebrick3: "#d02a2a", floralwhite: "#fffaf0", green: "#5cba47", greenyellow: "#b4d52f", grey: "#bebebe",
  grey60: "#9a9a9a", honeydew: "#f0fff0", indianred3: "#d05457", indianred4: "#8b3a3a",
  lavenderblush2: "#f2e2e8", lavenderblush3: "#cfc2c6", lightcyan: "#e3f6f8", lightcyan1: "#e8f6f8",
  lightslateblue: "#7a6ac8", lightsteelblue1: "#cde2f6", lightyellow: "#fdfde0", magenta4: "#8a1d8a",
  maroon: "#b23364", mediumorchid: "#b85bc6", mediumpurple4: "#5c4a8a", navajowhite1: "#fde0b0",
  orangered1: "#f0502a", orangered3: "#cf3e25", orangered4: "#8b2a18", pink4: "#8b636c", plum: "#dca3d9",
  plum3: "#cc98c9", saddlebrown: "#8b4a20", salmon4: "#8b4c3a", sienna3: "#cd6a3d", skyblue2: "#80c1ec",
  black: "#000000", blue: "#3b50ad", brown: "#a82b2e", cyan: "#58c8dd", darkolivegreen: "#556b2f",
  darkorange: "#f98c1e", darkslateblue: "#483d8b", ivory: "#fffff0", lightgreen: "#91d68f", magenta: "#cc4ca8",
  mediumpurple3: "#8a6cc8", midnightblue: "#1c1c6b", orange: "#f9a51c", paleturquoise: "#b2e6e8",
  pink: "#f9c0cb", plum1: "#f3bfe3", purple: "#9050b8", red: "#ec2027", royalblue: "#4a62c4",
  salmon: "#f58174", skyblue: "#88cfee", skyblue3: "#6aa6cc", steelblue: "#4682b4", tan: "#d2b48c",
  turquoise: "#55c7c3", violet: "#e486d8", white: "#ffffff", yellow: "#f7eb14", yellowgreen: "#9acb3a",
};

const FONT = "'Liberation Sans', Arial, Helvetica, sans-serif";

function toPairs(a: number[]): number[][] {
  const out: number[][] = [];
  for (let i = 0; i + 1 < a.length; i += 2) out.push([a[i], a[i + 1]]);
  return out;
}

function orderOf(legend: string[], first: string[], last: string[]): string[] {
  const mid = legend.filter((n) => first.indexOf(n) < 0 && last.indexOf(n) < 0);
  return [...first, ...mid, ...last];
}

function buildOption() {
  const series: any[] = [];
  const addPanel = (data: Record<string, number[]>, order: string[], idx: number) => {
    order.forEach((name) => {
      series.push({
        type: "scatter",
        name,
        xAxisIndex: idx,
        yAxisIndex: idx,
        data: toPairs(data[name] || []),
        symbol: "circle",
        symbolSize: 10,
        itemStyle: { color: COLORS[name], opacity: 1 },
        silent: true,
        emphasis: { disabled: true },
      });
    });
  };
  addPanel(A_DATA, orderOf(A_LEGEND, A_FIRST, A_LAST), 0);
  addPanel(B_DATA, orderOf(B_LEGEND, B_FIRST, B_LAST), 1);

  const xAxis = (min: number, max: number, labels: number[], grid: number[], gi: number, gap: number) => ({
    type: "value",
    gridIndex: gi,
    min,
    max,
    name: "kTotal",
    nameLocation: "middle",
    nameGap: gap,
    nameMoveOverlap: false,
    nameTextStyle: { fontSize: 18, color: "#333333", fontFamily: FONT },
    axisLine: { show: false },
    axisTick: { show: false, customValues: grid },
    axisLabel: {
      customValues: labels,
      fontSize: 14,
      color: "#777777",
      fontFamily: FONT,
      margin: 3,
      formatter: (v: number) => String(v),
    },
    splitLine: { show: true, lineStyle: { color: "#f0f0f0", width: 1 } },
  });
  const yAxis = (gi: number, gap: number, margin: number) => ({
    type: "value",
    gridIndex: gi,
    min: -0.449,
    max: 1.069,
    name: "adj.r.squared",
    nameLocation: "middle",
    nameGap: gap,
    nameMoveOverlap: false,
    nameTextStyle: { fontSize: 19, color: "#333333", fontFamily: FONT },
    axisLine: { show: false },
    axisTick: { show: false, customValues: Y_GRID },
    axisLabel: {
      customValues: Y_LABELS,
      fontSize: 14,
      color: "#777777",
      fontFamily: FONT,
      margin,
      formatter: (v: number) => Number(v).toFixed(1),
    },
    splitLine: { show: true, lineStyle: { color: "#f0f0f0", width: 1 } },
  });

  const legendCol = (names: string[], left: number, top: number, w: number, lh: number) => ({
    orient: "vertical",
    left,
    top,
    padding: 0,
    itemGap: 0,
    itemWidth: w,
    itemHeight: 8,
    icon: "circle",
    selectedMode: false,
    data: names,
    textStyle: { fontSize: 14.6, color: "#333333", fontFamily: FONT, lineHeight: lh },
  });

  const legends = [
    legendCol(A_LEGEND.slice(0, 17), 1022, 105, 36, 30.06),
    legendCol(A_LEGEND.slice(17, 34), 1173, 105, 36, 30.06),
    legendCol(A_LEGEND.slice(34), 1318, 105, 36, 30.06),
    legendCol(B_LEGEND.slice(0, 17), 1047, 903.7, 34, 28.56),
    legendCol(B_LEGEND.slice(17, 34), 1189, 903.7, 34, 28.56),
    legendCol(B_LEGEND.slice(34), 1336, 903.7, 34, 28.56),
  ];

  return {
    animation: false,
    backgroundColor: "#ffffff",
    textStyle: { fontFamily: FONT },
    grid: [
      { left: 95.4, top: 65.3, width: 889.6, height: 566.2, outerBoundsMode: "none", containLabel: false },
      { left: 93.1, top: 865.6, width: 921.5, height: 537.4, outerBoundsMode: "none", containLabel: false },
    ],
    xAxis: [
      xAxis(-42, 925, A_X_LABELS, A_X_GRID, 0, 19.5),
      xAxis(-88, 1848, B_X_LABELS, B_X_GRID, 1, 20),
    ],
    yAxis: [yAxis(0, 35, 10), yAxis(1, 32.6, 8)],
    legend: legends,
    graphic: [
      { type: "text", x: 1, y: 15.2, style: { text: "A", fontSize: 27, fontWeight: "bold", fill: "#000", fontFamily: FONT, verticalAlign: "middle" } },
      { type: "text", x: 1, y: 838.6, style: { text: "B", fontSize: 27, fontWeight: "bold", fill: "#000", fontFamily: FONT, verticalAlign: "middle" } },
      { type: "text", x: 1012, y: 88, style: { text: "moduleColors", fontSize: 18, fill: "#222", fontFamily: FONT, verticalAlign: "middle" } },
      { type: "text", x: 1036, y: 887, style: { text: "moduleColors", fontSize: 18, fill: "#222", fontFamily: FONT, verticalAlign: "middle" } },
    ],
    series,
  };
}

export default function App() {
  const ref = useRef<HTMLDivElement | null>(null);
  useEffect(() => {
    document.body.style.margin = "0";
    if (!ref.current) return;
    const chart = echarts.init(ref.current, undefined, { renderer: "svg" });
    chart.setOption(buildOption() as any);
    return () => chart.dispose();
  }, []);
  return <div ref={ref} style={{ width: 1453, height: 1442, background: "#fff" }} />;
}
